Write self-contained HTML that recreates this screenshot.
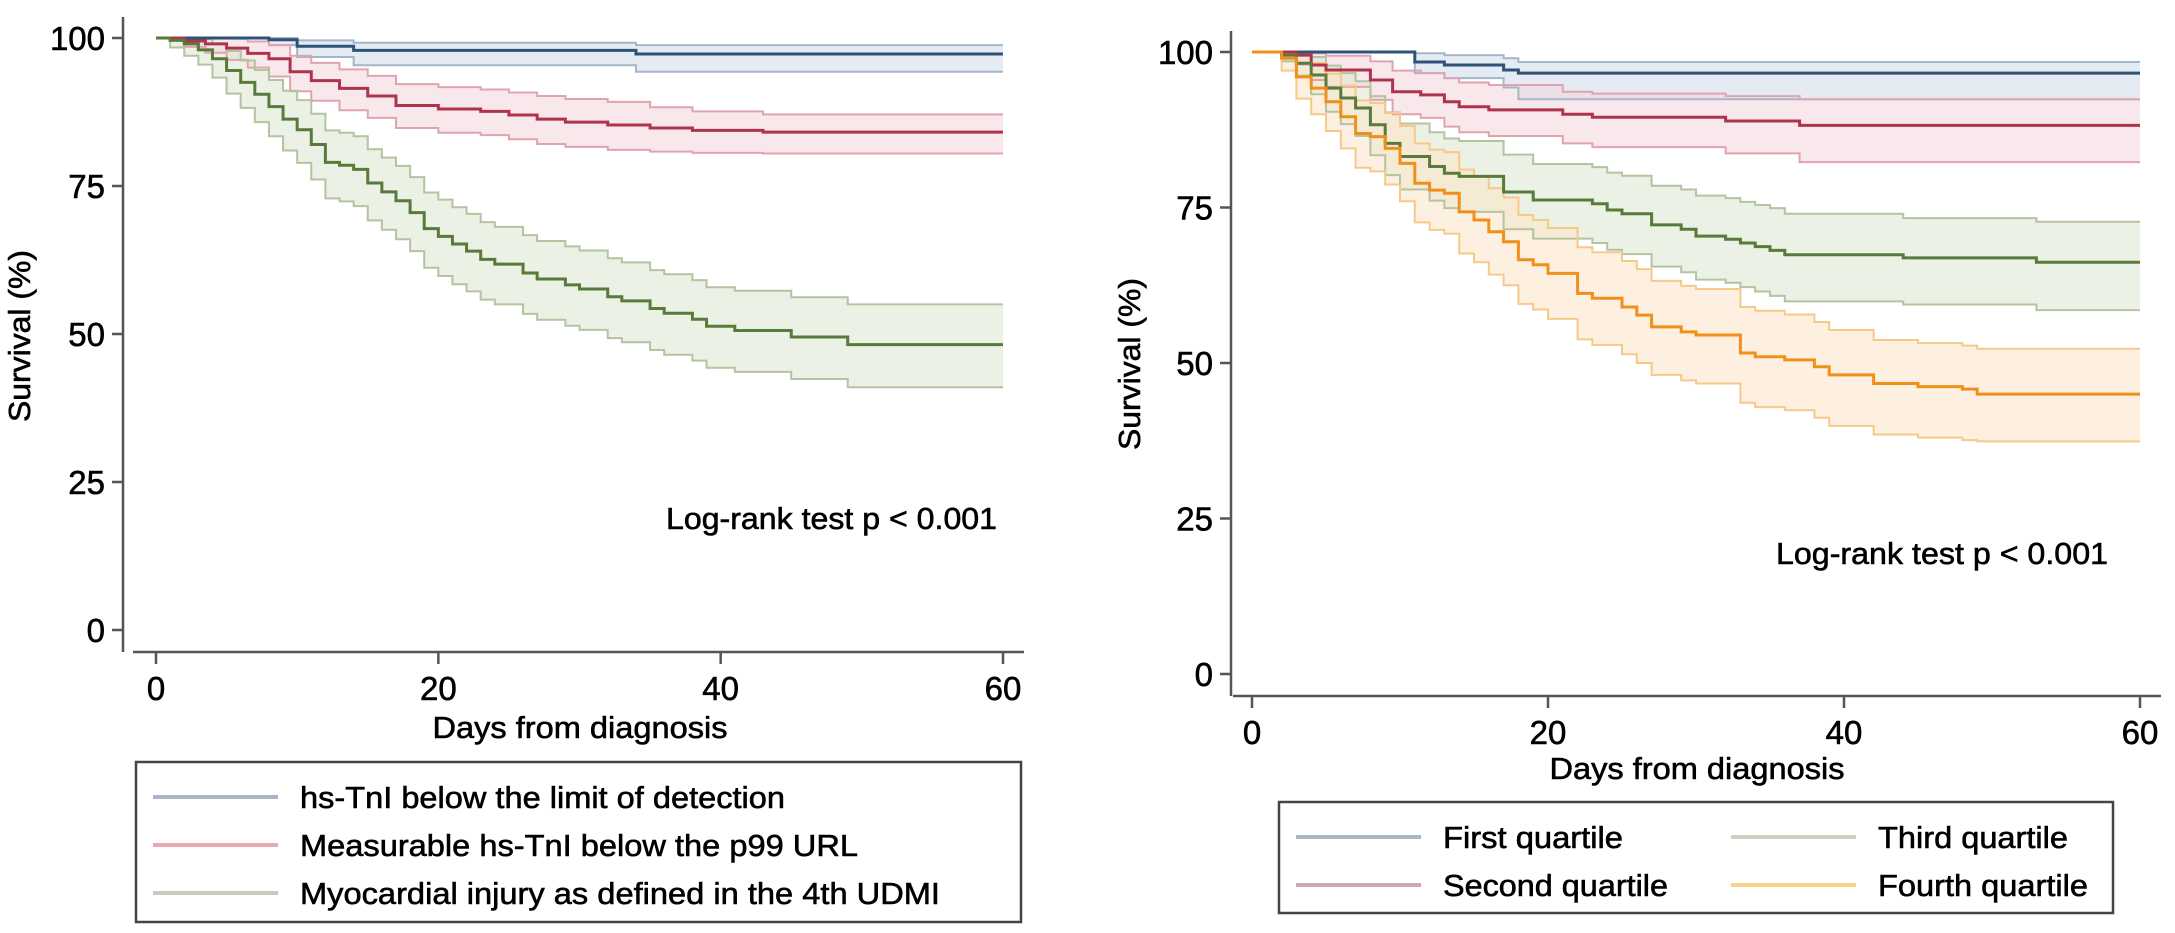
<!DOCTYPE html>
<html><head><meta charset="utf-8"><style>
html,body{margin:0;padding:0;background:#fff;}
svg{display:block;font-family:"Liberation Sans",Arial,sans-serif;}
svg text{stroke:#000;stroke-width:0.6px;}
</style></head><body>
<svg id="svg" width="2175" height="933" viewBox="0 0 2175 933" xmlns="http://www.w3.org/2000/svg">
<rect width="2175" height="933" fill="#fff"/>
<g id="left"></g>
<g id="right"></g>
</svg>
<script>
// ---------- data: left chart ----------
const yTicks = [0, 25, 50, 75, 100];
const xTicks = [0, 20, 40, 60];
const L_blue_t = [0, 8, 10, 14, 34];
const L_blue_est = [100, 99.7, 98.6, 97.9, 97.3];
const L_blue_hi = [100, 100, 99.6, 99.2, 98.8];
const L_blue_lo = [100, 98.8, 96.8, 95.4, 94.3];
const L_red_t = [0, 2, 3.5, 5, 6.5, 8, 9.5, 11, 13, 15, 17, 20, 23, 25, 27, 29, 32, 35, 38, 43];
const L_red_est = [100, 99.5, 99, 98.3, 97.4, 96.5, 94.3, 92.8, 91.5, 90.2, 88.6, 88.0, 87.6, 87.0, 86.3, 85.8, 85.3, 84.8, 84.4, 84.1];
const L_red_hi = [100, 100, 100, 99.9, 99.4, 98.8, 97.0, 95.8, 94.7, 93.6, 92.2, 91.7, 91.3, 90.8, 90.2, 89.7, 89.2, 88.3, 87.6, 87.1];
const L_red_lo = [100, 98.5, 97.5, 96.3, 95.0, 93.5, 91.0, 89.4, 87.8, 86.5, 84.8, 84.0, 83.6, 82.9, 82.1, 81.6, 81.1, 80.8, 80.6, 80.5];
const L_green_t = [0, 1, 2, 3, 4, 5, 6, 7, 8, 9, 10, 11, 12, 13, 14, 15, 16, 17, 18, 19, 20, 21, 22, 23, 24, 26, 27, 29, 30, 32, 33, 35, 36, 38, 39, 41, 45, 49];
const L_green_est = [100, 99.6, 99, 98, 96.5, 94.5, 92.5, 90.5, 88.4, 86.3, 84.5, 82, 79, 78.5, 77.8, 75.5, 74, 72.5, 70.5, 67.8, 66.5, 65.2, 64, 62.6, 61.8, 60.3, 59.3, 58.3, 57.6, 56.3, 55.6, 54.3, 53.5, 52.5, 51.3, 50.6, 49.5, 48.2];
const L_green_hi = [100, 100, 100, 99.8, 99, 97.8, 96.2, 94.6, 92.9, 91.1, 89.5, 87.2, 84.4, 84.0, 83.4, 81.2, 79.8, 78.4, 76.5, 73.9, 72.7, 71.4, 70.3, 68.9, 68.1, 66.7, 65.7, 64.8, 64.1, 62.8, 62.1, 60.8, 60.1, 59.1, 57.9, 57.3, 56.2, 55.0];
const L_green_lo = [100, 98.4, 97, 95.5, 93.3, 90.6, 88.2, 85.8, 83.4, 81.0, 78.9, 76.1, 72.9, 72.4, 71.6, 69.2, 67.6, 66.0, 64.0, 61.2, 59.8, 58.4, 57.2, 55.8, 55.0, 53.4, 52.4, 51.4, 50.7, 49.3, 48.6, 47.3, 46.5, 45.5, 44.3, 43.6, 42.4, 41.0];
// ---------- data: right chart ----------
const R_blue_t = [0, 11, 13, 17, 18];
const R_blue_est = [100, 98.4, 97.9, 97.1, 96.6];
const R_blue_hi = [100, 99.8, 99.5, 99, 98.4];
const R_blue_lo = [100, 96.6, 95.8, 94.3, 92.4];
const R_red_t = [0, 3, 4, 5, 8, 9.5, 11.4, 13, 14, 16, 21, 23, 32, 37];
const R_red_est = [100, 99.5, 97.9, 97.1, 95.5, 93.6, 93.1, 92.0, 91.2, 90.7, 90.0, 89.5, 88.9, 88.2];
const R_red_hi = [100, 100, 99.8, 99.4, 98.5, 97.0, 96.6, 95.8, 95.1, 94.7, 93.6, 93.3, 92.9, 92.4];
const R_red_lo = [100, 98.0, 95.5, 94.4, 92.3, 90.0, 89.4, 88.0, 87.1, 86.5, 85.3, 84.7, 83.7, 82.3];
const R_green_t = [0, 2, 3, 4, 5, 6, 7, 8, 9, 10, 12, 13, 14, 17, 19, 23, 24, 25, 27, 29, 30, 32, 33, 34, 35, 36, 44, 53];
const R_green_est = [100, 99.5, 98.2, 96.3, 94.2, 92.6, 91.0, 88.3, 85.3, 83.2, 81.6, 80.5, 80.0, 77.5, 76.2, 75.6, 74.6, 74.0, 72.2, 71.5, 70.4, 69.9, 69.3, 68.7, 68.1, 67.4, 66.9, 66.2];
const R_green_hi = [100, 100, 99.9, 99.2, 97.8, 96.6, 95.3, 92.9, 90.3, 88.5, 87.1, 86.1, 85.7, 83.5, 82.0, 81.5, 80.6, 80.1, 78.5, 77.9, 76.9, 76.5, 75.9, 75.4, 74.9, 74.0, 73.3, 72.7];
const R_green_lo = [100, 98.5, 96.2, 93.2, 90.4, 88.4, 86.5, 83.4, 80.2, 77.9, 76.1, 74.9, 74.3, 71.5, 70.0, 69.3, 68.2, 67.5, 65.5, 64.6, 63.4, 62.9, 62.2, 61.5, 60.8, 59.9, 59.4, 58.5];
const R_orange_t = [0, 2, 3, 4, 5, 6, 7, 8, 9, 10, 11, 12, 13, 14, 15, 16, 17, 18, 19, 20, 22, 23, 25, 26, 27, 29, 30, 33, 34, 36, 38, 39, 42, 45, 48, 49];
const R_orange_est = [100, 99, 96.0, 94.2, 92.0, 89.6, 86.9, 86.4, 84.5, 82.1, 78.9, 77.8, 77.3, 74.3, 73.0, 71.1, 69.5, 66.6, 65.8, 64.4, 61.2, 60.4, 59.0, 57.7, 55.8, 55.0, 54.5, 51.6, 51.0, 50.5, 49.4, 48.1, 46.7, 46.2, 45.8, 45.0];
const R_orange_hi = [100, 100, 99.5, 98.2, 96.5, 94.6, 92.2, 91.8, 90.2, 88.1, 85.3, 84.3, 83.9, 81.1, 79.9, 78.1, 76.6, 73.8, 73.0, 71.7, 68.6, 67.8, 66.4, 65.1, 63.2, 62.4, 61.9, 59.0, 58.4, 57.8, 56.6, 55.3, 53.7, 53.2, 52.8, 52.3];
const R_orange_lo = [100, 97, 92.5, 90.0, 87.3, 84.5, 81.4, 80.8, 78.7, 76.0, 72.6, 71.4, 70.8, 67.6, 66.2, 64.2, 62.5, 59.5, 58.6, 57.1, 53.8, 52.9, 51.4, 50.0, 48.1, 47.2, 46.7, 43.6, 42.9, 42.4, 41.2, 39.9, 38.5, 38.0, 37.6, 37.4];

const NS = "http://www.w3.org/2000/svg";
function mk(parent, tag, attrs, text) {
  const e = document.createElementNS(NS, tag);
  for (const k in attrs) e.setAttribute(k, attrs[k]);
  if (text !== undefined) e.textContent = text;
  parent.appendChild(e);
  return e;
}
const COL = {
  blue: {line: "#2f5378", edge: "#a3b6cb", fill: "#cfdbe8"},
  red: {line: "#b0334c", edge: "#e2a3b0", fill: "#f3d6dc"},
  green: {line: "#587a3a", edge: "#b4c3a0", fill: "#dce6cf"},
  orange: {line: "#f0901a", edge: "#f6c98a", fill: "#fde3c6"}
};

function drawChart(g, cfg, series) {
  const X = d => cfg.x0 + (d / 60) * (cfg.x60 - cfg.x0);
  const Y = v => cfg.y0 - (v / 100) * (cfg.y0 - cfg.y100);
  function stepPath(t, v) {
    let d = "M" + X(t[0]) + "," + Y(v[0]);
    for (let i = 1; i < t.length; i++) d += "H" + X(t[i]) + "V" + Y(v[i]);
    d += "H" + X(60);
    return d;
  }
  function bandPath(t, hi, lo) {
    let d = "M" + X(t[0]) + "," + Y(hi[0]);
    for (let i = 1; i < t.length; i++) d += "H" + X(t[i]) + "V" + Y(hi[i]);
    d += "H" + X(60) + "V" + Y(lo[lo.length - 1]);
    for (let i = t.length - 1; i >= 1; i--) d += "H" + X(t[i]) + "V" + Y(lo[i - 1]);
    d += "H" + X(t[0]) + "Z";
    return d;
  }
  series.forEach(s => {
    const c = COL[s.color];
    const b = mk(g, "path", {d: bandPath(s.t, s.hi, s.lo), fill: c.fill, "fill-opacity": 0.55, stroke: "none"});
    
    
  });
  series.forEach(s => {
    const c = COL[s.color];
    const h = mk(g, "path", {d: stepPath(s.t, s.hi), fill: "none", stroke: c.edge, "stroke-width": 2});
    
    
    const l = mk(g, "path", {d: stepPath(s.t, s.lo), fill: "none", stroke: c.edge, "stroke-width": 2});
    
    
  });
  series.forEach(s => {
    const c = COL[s.color];
    const p = mk(g, "path", {d: stepPath(s.t, s.est), fill: "none", stroke: c.line, "stroke-width": 3});
    
    
  });
  const ya = mk(g, "line", {x1: cfg.yax, x2: cfg.yax, y1: cfg.yTop, y2: cfg.xay, stroke: "#555", "stroke-width": 2.5});
  
  
  const xa = mk(g, "line", {x1: cfg.xaStart, x2: cfg.xaEnd, y1: cfg.xay, y2: cfg.xay, stroke: "#555", "stroke-width": 2.5});
  
  
  yTicks.forEach(v => {
    const tk = mk(g, "line", {x1: cfg.yax - 11, x2: cfg.yax, y1: Y(v), y2: Y(v), stroke: "#555", "stroke-width": 2.5});
    
    
    const tl = mk(g, "text", {x: cfg.yax - 18, y: Y(v) + 12, "text-anchor": "end", "font-size": 33, fill: "#000"}, String(v));
    
    
  });
  xTicks.forEach(d => {
    const tk = mk(g, "line", {x1: X(d), x2: X(d), y1: cfg.xay, y2: cfg.xay + 12, stroke: "#555", "stroke-width": 2.5});
    
    
    const tl = mk(g, "text", {x: X(d), y: cfg.xay + 48, "text-anchor": "middle", "font-size": 33, fill: "#000"}, String(d));
    
    
  });
  const xt = mk(g, "text", {x: cfg.xtX, y: cfg.xtY, "text-anchor": "middle", "font-size": 31, fill: "#000", textLength: 295, lengthAdjust: "spacingAndGlyphs"}, "Days from diagnosis");
  
  
  const yt = mk(g, "text", {x: 0, y: 0, "text-anchor": "middle", "font-size": 31, fill: "#000", textLength: 172, lengthAdjust: "spacingAndGlyphs", transform: "translate(" + cfg.ytX + "," + cfg.ytY + ") rotate(-90)"}, "Survival (%)");
  
  
  const lr = mk(g, "text", {x: cfg.lrX, y: cfg.lrY, "font-size": 31, fill: "#000", textLength: cfg.lrW, lengthAdjust: "spacingAndGlyphs"}, "Log-rank test p < 0.001");
  
  
  const lg = mk(g, "g", {});
  
  
  mk(lg, "rect", {x: cfg.lgX, y: cfg.lgY, width: cfg.lgW, height: cfg.lgH, fill: "#fff", stroke: "#444", "stroke-width": 2.5});
  cfg.legend.forEach(e => {
    const it = mk(lg, "g", {});
    
    
    mk(it, "line", {x1: e.x, x2: e.x + 125, y1: e.y, y2: e.y, stroke: e.c, "stroke-width": 4});
    mk(it, "text", {x: e.x + 147, y: e.y + 11, "font-size": 31, fill: "#000", textLength: e.w, lengthAdjust: "spacingAndGlyphs"}, e.label);
  });
}

drawChart(document.getElementById("left"), {
  x0: 156, x60: 1003, y0: 630, y100: 38, yax: 123, yTop: 17, xay: 652, xaStart: 133, xaEnd: 1024,
  xtX: 580, xtY: 738, ytX: 30, ytY: 336, lrX: 666, lrY: 529, lrW: 331,
  lgX: 136, lgY: 762, lgW: 885, lgH: 160,
  legend: [
    {x: 153, y: 797, c: "#a7b7c8", label: "hs-TnI below the limit of detection", w: 485},
    {x: 153, y: 845, c: "#e8a9b5", label: "Measurable hs-TnI below the p99 URL", w: 558},
    {x: 153, y: 893, c: "#c7cdbb", label: "Myocardial injury as defined in the 4th UDMI", w: 640}
  ]
}, [
  {name: "below-lod", color: "blue", t: L_blue_t, est: L_blue_est, hi: L_blue_hi, lo: L_blue_lo},
  {name: "measurable-below-p99", color: "red", t: L_red_t, est: L_red_est, hi: L_red_hi, lo: L_red_lo},
  {name: "myocardial-injury", color: "green", t: L_green_t, est: L_green_est, hi: L_green_hi, lo: L_green_lo}
]);

drawChart(document.getElementById("right"), {
  x0: 1252, x60: 2140, y0: 674, y100: 52, yax: 1231, yTop: 31, xay: 696, xaStart: 1233, xaEnd: 2161,
  xtX: 1697, xtY: 779, ytX: 1140, ytY: 364, lrX: 1776, lrY: 564, lrW: 332,
  lgX: 1279, lgY: 802, lgW: 834, lgH: 111,
  legend: [
    {x: 1296, y: 837, c: "#a9b8c8", label: "First quartile", w: 180},
    {x: 1296, y: 885, c: "#caa9b1", label: "Second quartile", w: 225},
    {x: 1731, y: 837, c: "#c9d1c1", label: "Third quartile", w: 190},
    {x: 1731, y: 885, c: "#f5d58c", label: "Fourth quartile", w: 210}
  ]
}, [
  {name: "first-quartile", color: "blue", t: R_blue_t, est: R_blue_est, hi: R_blue_hi, lo: R_blue_lo},
  {name: "second-quartile", color: "red", t: R_red_t, est: R_red_est, hi: R_red_hi, lo: R_red_lo},
  {name: "third-quartile", color: "green", t: R_green_t, est: R_green_est, hi: R_green_hi, lo: R_green_lo},
  {name: "fourth-quartile", color: "orange", t: R_orange_t, est: R_orange_est, hi: R_orange_hi, lo: R_orange_lo}
]);
</script>
</body></html>
